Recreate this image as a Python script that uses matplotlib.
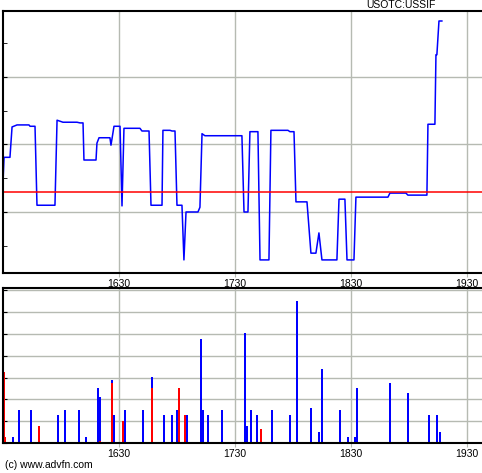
import matplotlib
matplotlib.use("Agg")
import matplotlib.pyplot as plt
from matplotlib.ticker import MultipleLocator

# price line (time, price)
price_t = [1530.0, 1530.9, 1536.0, 1537.8, 1542.1, 1552.4, 1553.3, 1557.6, 1559.3, 1574.8,
           1576.6, 1581.7, 1593.8, 1596.4, 1599.0, 1599.8, 1610.2, 1611.0, 1612.8, 1622.2,
           1623.1, 1625.7, 1630.9, 1632.6, 1634.3, 1648.1, 1649.8, 1655.9, 1657.6, 1667.1,
           1667.9, 1674.0, 1675.7, 1678.3, 1680.0, 1684.3, 1686.0, 1687.8, 1698.1, 1699.8,
           1701.6, 1704.1, 1736.0, 1737.8, 1741.2, 1742.9, 1749.8, 1751.6, 1759.3, 1761.0,
           1775.7, 1777.4, 1780.9, 1782.6, 1792.1, 1795.5, 1799.8, 1802.4, 1805.0, 1817.9,
           1819.7, 1824.8, 1826.6, 1832.6, 1834.3, 1861.9, 1863.6, 1877.4, 1879.1, 1895.5,
           1896.4, 1902.4, 1903.3, 1904.1, 1905.9, 1908.4]
price = [2.43, 2.81, 2.81, 3.26, 3.29, 3.29, 3.27, 3.27, 2.10, 2.10,
         3.36, 3.33, 3.33, 3.32, 3.32, 2.77, 2.77, 3.02, 3.10, 3.10,
         2.99, 3.27, 3.27, 2.09, 3.24, 3.24, 3.20, 3.20, 2.10, 2.10,
         3.21, 3.21, 3.20, 3.20, 2.10, 2.10, 1.29, 2.00, 2.00, 2.07,
         3.16, 3.13, 3.13, 2.00, 2.00, 3.19, 3.19, 1.29, 1.29, 3.21,
         3.21, 3.19, 3.19, 2.15, 2.15, 1.39, 1.39, 1.69, 1.29, 1.29,
         2.19, 2.19, 1.29, 1.29, 2.22, 2.22, 2.28, 2.28, 2.25, 2.25,
         3.30, 3.30, 4.33, 4.33, 4.83, 4.83]
ref_price = 2.30

# volume bars (time, red part, blue part)
vol_t = [1531.0, 1532.2, 1538.6, 1543.8, 1554.1, 1561.0, 1577.4, 1583.4, 1595.5, 1601.6,
         1611.9, 1613.6, 1624.0, 1625.7, 1633.4, 1635.2, 1650.7, 1658.4, 1668.8, 1675.7,
         1680.0, 1681.7, 1686.9, 1688.6, 1700.7, 1702.4, 1706.7, 1718.8, 1738.6, 1740.3,
         1743.8, 1749.0, 1752.4, 1761.9, 1777.4, 1783.4, 1795.5, 1802.4, 1805.0, 1820.5,
         1827.4, 1833.4, 1835.2, 1863.6, 1879.1, 1897.2, 1904.1, 1906.7]
vol_red = [3.26, 0.28, 0, 0, 0, 0.78, 0, 0, 0, 0,
           0, 0.10, 2.75, 0, 1.01, 0, 0, 2.52, 0, 0,
           0, 2.52, 1.28, 0, 0, 0, 0, 0, 0, 0,
           0, 0, 0.64, 0, 0, 0, 0, 0, 0, 0,
           0, 0, 0, 0, 0, 0, 0, 0]
vol_blue = [0, 0, 0.28, 1.51, 1.51, 0, 1.28, 1.51, 1.51, 0.28,
            2.52, 2.01, 0.14, 1.28, 0, 1.51, 1.51, 0.51, 1.28, 1.28,
            1.51, 0, 0, 1.28, 4.77, 1.51, 1.28, 1.51, 5.05, 0.78,
            1.51, 1.28, 0, 1.51, 1.28, 6.51, 1.61, 0.50, 3.39, 1.51,
            0.28, 0.28, 2.52, 2.75, 2.29, 1.28, 1.28, 0.50]

xticks = [1630, 1730, 1830, 1930]
grid_col = "#b6bab2"

fig = plt.figure(figsize=(4.82, 4.73), dpi=100)
ax1 = fig.add_axes([3 / 482, 200 / 473, 479 / 482, 262 / 473])
ax2 = fig.add_axes([3 / 482, 30 / 473, 479 / 482, 155 / 473])

for ax in (ax1, ax2):
    ax.set_xlim(1530, 1943)
    ax.set_xticks(xticks)
    ax.set_xticklabels([str(t) for t in xticks], fontsize=7.5, family="Liberation Sans")
    ax.grid(True, color=grid_col, linewidth=1)
    ax.set_axisbelow(True)
    ax.spines["right"].set_visible(False)
    for s in ("top", "left", "bottom"):
        ax.spines[s].set_linewidth(1.5)
    ax.tick_params(axis="x", direction="out", length=3, color=grid_col, pad=1)
    ax.tick_params(axis="y", which="both", direction="in", length=3, labelleft=False)

# price panel
ax1.plot(price_t, price, color="#0000ff", linewidth=1.1)
ax1.axhline(ref_price, color="#ff0000", linewidth=1.1)
ax1.set_ylim(1.096, 4.978)
ax1.yaxis.set_major_locator(MultipleLocator(1))
ax1.yaxis.set_minor_locator(MultipleLocator(0.5))
ax1.grid(False, which="minor")

# volume panel
ax2.bar(vol_t, vol_red, width=1.6, color="#ff0000", linewidth=0)
ax2.bar(vol_t, vol_blue, width=1.6, bottom=vol_red, color="#0000ff", linewidth=0)
ax2.set_ylim(0, 7.1)
ax2.yaxis.set_major_locator(MultipleLocator(1))

fig.text(401 / 482, 1 - 5 / 473, "USOTC:USSIF", ha="center", va="center",
         fontsize=7.5, family="Liberation Sans")
fig.text(5 / 482, 1 - 465 / 473, "(c) www.advfn.com", ha="left", va="center",
         fontsize=7.5, family="Liberation Sans")

fig.savefig("out.png", dpi=100)
